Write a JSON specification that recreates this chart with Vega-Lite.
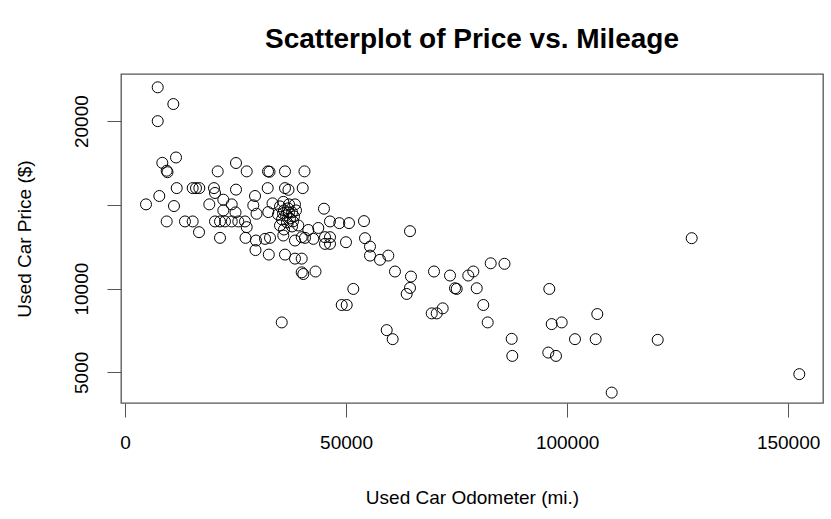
{
  "$schema": "https://vega.github.io/schema/vega-lite/v6.json",
  "width": 702,
  "height": 329,
  "autosize": {"type": "none"},
  "padding": {"left": 121, "top": 74, "right": 8, "bottom": 116},
  "background": "white",
  "title": {"text": "Scatterplot of Price vs. Mileage", "fontSize": 28, "fontWeight": "bold", "font": "Liberation Sans", "color": "#000", "anchor": "middle", "frame": "group", "offset": 20},
  "data": {"values": [
    {"mileage": 7400, "price": 22020}, {"mileage": 10930, "price": 21020}, {"mileage": 7400, "price": 20000},
    {"mileage": 8440, "price": 17510}, {"mileage": 11540, "price": 17830}, {"mileage": 9430, "price": 17040},
    {"mileage": 9610, "price": 16950}, {"mileage": 20970, "price": 17000}, {"mileage": 25110, "price": 17500},
    {"mileage": 27530, "price": 17000}, {"mileage": 32350, "price": 17000}, {"mileage": 32690, "price": 16980},
    {"mileage": 36190, "price": 17000}, {"mileage": 40600, "price": 17000}, {"mileage": 11700, "price": 16000},
    {"mileage": 15310, "price": 16000}, {"mileage": 16060, "price": 16000}, {"mileage": 16810, "price": 16000},
    {"mileage": 20130, "price": 16000}, {"mileage": 20360, "price": 15710}, {"mileage": 25110, "price": 15910},
    {"mileage": 32280, "price": 16000}, {"mileage": 36190, "price": 16000}, {"mileage": 36980, "price": 15900},
    {"mileage": 40200, "price": 16000}, {"mileage": 7760, "price": 15530}, {"mileage": 4750, "price": 15030},
    {"mileage": 11080, "price": 14930}, {"mileage": 19070, "price": 15030}, {"mileage": 22240, "price": 15310},
    {"mileage": 24140, "price": 15030}, {"mileage": 29410, "price": 15530}, {"mileage": 29020, "price": 14970},
    {"mileage": 33370, "price": 15090}, {"mileage": 35810, "price": 15180}, {"mileage": 38450, "price": 15030},
    {"mileage": 22240, "price": 14670}, {"mileage": 25000, "price": 14550}, {"mileage": 29750, "price": 14470},
    {"mileage": 32410, "price": 14570}, {"mileage": 45010, "price": 14770}, {"mileage": 9430, "price": 14010},
    {"mileage": 13570, "price": 14010}, {"mileage": 15310, "price": 14010}, {"mileage": 20360, "price": 14010},
    {"mileage": 21490, "price": 14010}, {"mileage": 22620, "price": 14010}, {"mileage": 24140, "price": 14010},
    {"mileage": 25630, "price": 14010}, {"mileage": 27140, "price": 14010}, {"mileage": 27530, "price": 13670},
    {"mileage": 16740, "price": 13370}, {"mileage": 21490, "price": 13030}, {"mileage": 27260, "price": 13030},
    {"mileage": 29630, "price": 12870}, {"mileage": 31670, "price": 12970}, {"mileage": 32800, "price": 13030},
    {"mileage": 29520, "price": 12300}, {"mileage": 32530, "price": 12030}, {"mileage": 35810, "price": 13170},
    {"mileage": 38450, "price": 12870}, {"mileage": 39970, "price": 13070}, {"mileage": 40720, "price": 13030},
    {"mileage": 42590, "price": 12970}, {"mileage": 45240, "price": 13070}, {"mileage": 46370, "price": 13070},
    {"mileage": 45240, "price": 12670}, {"mileage": 46370, "price": 12670}, {"mileage": 49990, "price": 12770},
    {"mileage": 36190, "price": 12030}, {"mileage": 38450, "price": 11790}, {"mileage": 39970, "price": 11790},
    {"mileage": 39970, "price": 10970}, {"mileage": 40330, "price": 10870}, {"mileage": 43090, "price": 11020},
    {"mileage": 35450, "price": 7980}, {"mileage": 39200, "price": 13770}, {"mileage": 41460, "price": 13500},
    {"mileage": 43720, "price": 13620}, {"mileage": 46370, "price": 14010}, {"mileage": 48480, "price": 13910},
    {"mileage": 50670, "price": 13910}, {"mileage": 54060, "price": 14030}, {"mileage": 54290, "price": 13010},
    {"mileage": 55420, "price": 12510}, {"mileage": 55420, "price": 11970}, {"mileage": 57680, "price": 11720},
    {"mileage": 59560, "price": 11970}, {"mileage": 64470, "price": 13430}, {"mileage": 61070, "price": 11020},
    {"mileage": 64690, "price": 10720}, {"mileage": 64470, "price": 10040}, {"mileage": 63720, "price": 9680},
    {"mileage": 51640, "price": 9980}, {"mileage": 49020, "price": 9020}, {"mileage": 50150, "price": 9020},
    {"mileage": 59200, "price": 7520}, {"mileage": 60550, "price": 6980}, {"mileage": 69900, "price": 11020},
    {"mileage": 73520, "price": 10780}, {"mileage": 77650, "price": 10780}, {"mileage": 78790, "price": 11020},
    {"mileage": 82720, "price": 11510}, {"mileage": 85840, "price": 11480}, {"mileage": 74650, "price": 10020},
    {"mileage": 75030, "price": 9980}, {"mileage": 79560, "price": 10020}, {"mileage": 81050, "price": 9020},
    {"mileage": 82040, "price": 7980}, {"mileage": 69380, "price": 8520}, {"mileage": 70510, "price": 8520},
    {"mileage": 71860, "price": 8820}, {"mileage": 87470, "price": 7000}, {"mileage": 87610, "price": 5980},
    {"mileage": 128190, "price": 13010}, {"mileage": 95980, "price": 9980}, {"mileage": 96520, "price": 7880},
    {"mileage": 98780, "price": 7980}, {"mileage": 106830, "price": 8480}, {"mileage": 95750, "price": 6180},
    {"mileage": 97490, "price": 5980}, {"mileage": 101790, "price": 6980}, {"mileage": 106470, "price": 6980},
    {"mileage": 120500, "price": 6940}, {"mileage": 110090, "price": 3790}, {"mileage": 152530, "price": 4890},
    {"mileage": 35060, "price": 14910}, {"mileage": 35970, "price": 14670}, {"mileage": 36870, "price": 14790},
    {"mileage": 37780, "price": 14550}, {"mileage": 36420, "price": 14370}, {"mileage": 37320, "price": 14190},
    {"mileage": 35510, "price": 14130}, {"mileage": 38230, "price": 14310}, {"mileage": 36640, "price": 13950},
    {"mileage": 35060, "price": 13770}, {"mileage": 37780, "price": 13710}, {"mileage": 35970, "price": 13530},
    {"mileage": 37100, "price": 14550}, {"mileage": 34610, "price": 14430}, {"mileage": 38680, "price": 14670},
    {"mileage": 35740, "price": 14490}, {"mileage": 37100, "price": 15030}, {"mileage": 38000, "price": 14010}
  ]},
  "mark": {"type": "point", "shape": "circle", "filled": false, "stroke": "#000", "strokeWidth": 1, "size": 121, "opacity": 1},
  "encoding": {
    "x": {
      "field": "mileage", "type": "quantitative",
      "scale": {"domain": [-905, 157890], "nice": false, "zero": false},
      "axis": {"values": [0, 50000, 100000, 150000], "format": "d", "title": "Used Car Odometer (mi.)", "grid": false, "domain": false, "tickSize": 14, "tickColor": "#555", "labelPadding": 16, "labelFontSize": 19, "titleFontSize": 19, "titleFontWeight": "normal", "titlePadding": 36, "labelFlush": false, "labelOverlap": false}
    },
    "y": {
      "field": "price", "type": "quantitative",
      "scale": {"domain": [3168, 22815], "nice": false, "zero": false},
      "axis": {"values": [5000, 10000, 15000, 20000], "format": "d", "labelExpr": "datum.value == 15000 ? '' : datum.label", "title": "Used Car Price ($)", "grid": false, "domain": false, "tickSize": 14, "tickColor": "#555", "labelAngle": -90, "labelAlign": "center", "labelBaseline": "alphabetic", "labelPadding": 20, "labelFontSize": 19, "titleFontSize": 19, "titleFontWeight": "normal", "titlePadding": 38, "labelFlush": false, "labelOverlap": false}
    }
  },
  "config": {
    "view": {"stroke": "#555", "strokeWidth": 1.3},
    "font": "Liberation Sans",
    "axis": {"labelColor": "#000", "titleColor": "#000", "labelFont": "Liberation Sans", "titleFont": "Liberation Sans"}
  }
}
